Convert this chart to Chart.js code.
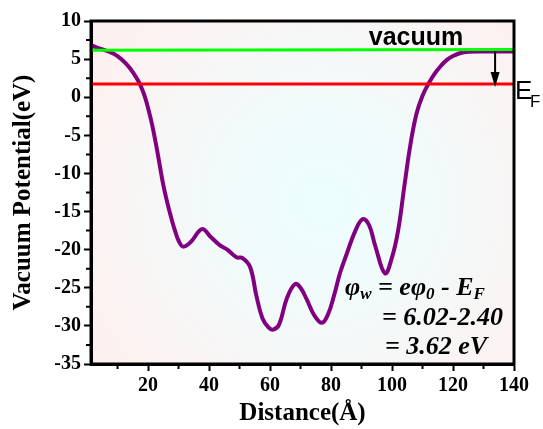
<!DOCTYPE html>
<html>
<head>
<meta charset="utf-8">
<script src="https://cdn.jsdelivr.net/npm/chart.js@4.4.0/dist/chart.umd.min.js"></script>
<style>
  html, body { margin: 0; padding: 0; background: #ffffff; }
  #wrap { width: 543px; height: 429px; }
</style>
</head>
<body>
<div id="wrap"><canvas id="grafico" width="543" height="429"></canvas></div>
<script>
// dados
const distancia = [1.3, 4, 7, 10, 13, 15, 17, 18, 19, 20, 21, 22, 23, 24, 25, 26, 27, 28, 29, 30, 31.5, 34, 37.7, 40.5, 43.5, 46, 49, 51, 53.5, 55.5, 57.5, 59.5, 61, 63, 65.5, 68.2, 70, 72, 74.5, 77, 79, 81, 83, 85.2, 88, 90.4, 92.5, 94.5, 97.7, 100, 102, 104, 106, 108, 110, 112, 114, 116, 118, 120, 122.5, 125, 130, 135, 140];
const potencial = [6.85, 6.4, 6.0, 5.4, 4.3, 3.3, 2.0, 1.1, 0.0, -1.4, -3.0, -4.9, -7.0, -9.3, -11.5, -13.3, -14.9, -16.4, -17.7, -18.8, -19.6, -19.0, -17.3, -18.3, -19.4, -20.0, -21.0, -21.1, -22.3, -26.0, -29.0, -30.2, -30.5, -29.8, -26.4, -24.5, -25.0, -26.5, -28.6, -29.6, -28.5, -26.0, -23.0, -20.5, -17.5, -16.0, -16.8, -19.5, -23.1, -21.0, -17.5, -11.8, -6.3, -2.2, 0.2, 1.8, 3.1, 4.1, 4.9, 5.4, 5.8, 5.95, 6.0, 6.0, 6.0];
const nivelVacuo = [6.15, 6.25];
const nivelFermi = [1.75, 1.75];
const limitesX = [1.3, 140];
const ticksX = [20, 40, 60, 80, 100, 120, 140];
const ticksXMenores = [10, 30, 50, 70, 90, 110, 130];
const ticksY = [-35, -30, -25, -20, -15, -10, -5, 0, 5, 10];
const ticksYMenores = [-32.5, -27.5, -22.5, -17.5, -12.5, -7.5, -2.5, 2.5, 7.5];
const setaX = 133.8;
const formula = ["= 6.02-2.40", "= 3.62 eV"];

const serif = "'Liberation Serif', 'Times New Roman', serif";
const sans = "'Liberation Sans', Arial, sans-serif";

const pontos = distancia.map((x, i) => ({ x: x, y: potencial[i] }));

// fundo em degradê
const fundo = {
  id: "fundo",
  beforeDraw(chart) {
    const { ctx, chartArea: a } = chart;
    const cx = (a.left + a.right) / 2 + 20, cy = (a.top + a.bottom) / 2 + 10;
    const g = ctx.createRadialGradient(cx, cy, 10, cx, cy, 260);
    g.addColorStop(0, "#ecfefe");
    g.addColorStop(0.45, "#f3f9f9");
    g.addColorStop(1, "#fdf1f0");
    ctx.save();
    ctx.fillStyle = g;
    ctx.fillRect(a.left, a.top, a.right - a.left, a.bottom - a.top);
    ctx.restore();
  },
};

function textoSub(ctx, partes, x, y, tam) {
  // partes: [texto, subscrito?]
  let px = x;
  partes.forEach(([t, sub]) => {
    ctx.font = (sub ? "bold italic " + Math.round(tam * 0.65) + "px " : "bold italic " + tam + "px ") + serif;
    ctx.fillText(t, px, sub ? y + 4 : y);
    px += ctx.measureText(t).width;
  });
}

// moldura, ticks menores, seta e textos
const extras = {
  id: "extras",
  afterDraw(chart) {
    const { ctx, chartArea: a, scales } = chart;
    ctx.save();
    ctx.strokeStyle = "#000";
    ctx.lineWidth = 3;
    ctx.strokeRect(a.left, a.top, a.right - a.left, a.bottom - a.top);

    ctx.lineWidth = 2;
    ctx.beginPath();
    ticksXMenores.forEach((v) => {
      const px = scales.x.getPixelForValue(v);
      ctx.moveTo(px, a.bottom);
      ctx.lineTo(px, a.bottom + 5);
    });
    ticksYMenores.forEach((v) => {
      const py = scales.y.getPixelForValue(v);
      ctx.moveTo(a.left, py);
      ctx.lineTo(a.left - 5, py);
    });
    ctx.stroke();

    // seta
    const sx = scales.x.getPixelForValue(setaX);
    const y0 = scales.y.getPixelForValue(6.0);
    const y1 = scales.y.getPixelForValue(nivelFermi[0]);
    ctx.beginPath();
    ctx.moveTo(sx, y0);
    ctx.lineTo(sx, y1 - 10);
    ctx.stroke();
    ctx.fillStyle = "#000";
    ctx.beginPath();
    ctx.moveTo(sx - 4.5, y1 - 12);
    ctx.lineTo(sx + 4.5, y1 - 12);
    ctx.lineTo(sx, y1 + 3);
    ctx.closePath();
    ctx.fill();

    // vacuum
    ctx.textAlign = "center";
    ctx.textBaseline = "alphabetic";
    ctx.font = "bold 25px " + sans;
    ctx.fillText("vacuum", 416, 45);

    // E_F
    ctx.textAlign = "left";
    ctx.font = "26px " + sans;
    ctx.fillText("E", 515, 99);
    ctx.font = "17px " + sans;
    ctx.fillText("F", 530, 107);

    // fórmula
    textoSub(ctx, [["φ", false], ["w", true], [" = eφ", false], ["0", true], [" - E", false], ["F", true]], 345, 295, 26);
    ctx.font = "bold italic 26px " + serif;
    ctx.fillText(formula[0], 382, 325);
    ctx.fillText(formula[1], 385, 354);
    ctx.restore();
  },
};

new Chart(document.getElementById("grafico").getContext("2d"), {
  type: "line",
  data: {
    datasets: [
      {
        label: "vacuum",
        data: limitesX.map((x, i) => ({ x: x, y: nivelVacuo[i] })),
        borderColor: "#00ff00",
        borderWidth: 3,
        pointRadius: 0,
      },
      {
        label: "EF",
        data: limitesX.map((x, i) => ({ x: x, y: nivelFermi[i] })),
        borderColor: "#ff0000",
        borderWidth: 3,
        pointRadius: 0,
      },
      {
        label: "Potencial",
        data: pontos,
        borderColor: "#800080",
        borderWidth: 4,
        pointRadius: 0,
        tension: 0.4,
      },
    ],
  },
  options: {
    responsive: false,
    animation: false,
    layout: { padding: { top: 21, right: 29, left: 0, bottom: 0 } },
    plugins: { legend: { display: false }, tooltip: { enabled: false } },
    scales: {
      x: {
        type: "linear",
        min: limitesX[0],
        max: limitesX[1],
        afterBuildTicks: (s) => { s.ticks = ticksX.map((v) => ({ value: v })); },
        afterFit: (s) => { s.height = 65; },
        border: { color: "#000", width: 3 },
        grid: { drawOnChartArea: false, color: "#000", tickLength: 7, tickWidth: 2 },
        ticks: {
          color: "#000",
          padding: 3,
          maxRotation: 0,
          autoSkip: false,
          font: { family: serif, size: 20, weight: "bold" },
        },
        title: {
          display: true,
          text: "Distance(Å)",
          color: "#000",
          padding: { top: 2, bottom: 0 },
          font: { family: serif, size: 25, weight: "bold" },
        },
      },
      y: {
        min: -35,
        max: 10,
        afterBuildTicks: (s) => { s.ticks = ticksY.map((v) => ({ value: v })); },
        afterFit: (s) => { s.width = 91; },
        border: { color: "#000", width: 3 },
        grid: { drawOnChartArea: false, color: "#000", tickLength: 7, tickWidth: 2 },
        ticks: {
          color: "#000",
          padding: 3,
          autoSkip: false,
          font: { family: serif, size: 20, weight: "bold" },
        },
        title: {
          display: true,
          text: "Vacuum Potential(eV)",
          color: "#000",
          padding: { top: 9, bottom: 0 },
          font: { family: serif, size: 25, weight: "bold" },
        },
      },
    },
  },
  plugins: [fundo, extras],
});
</script>
</body>
</html>
